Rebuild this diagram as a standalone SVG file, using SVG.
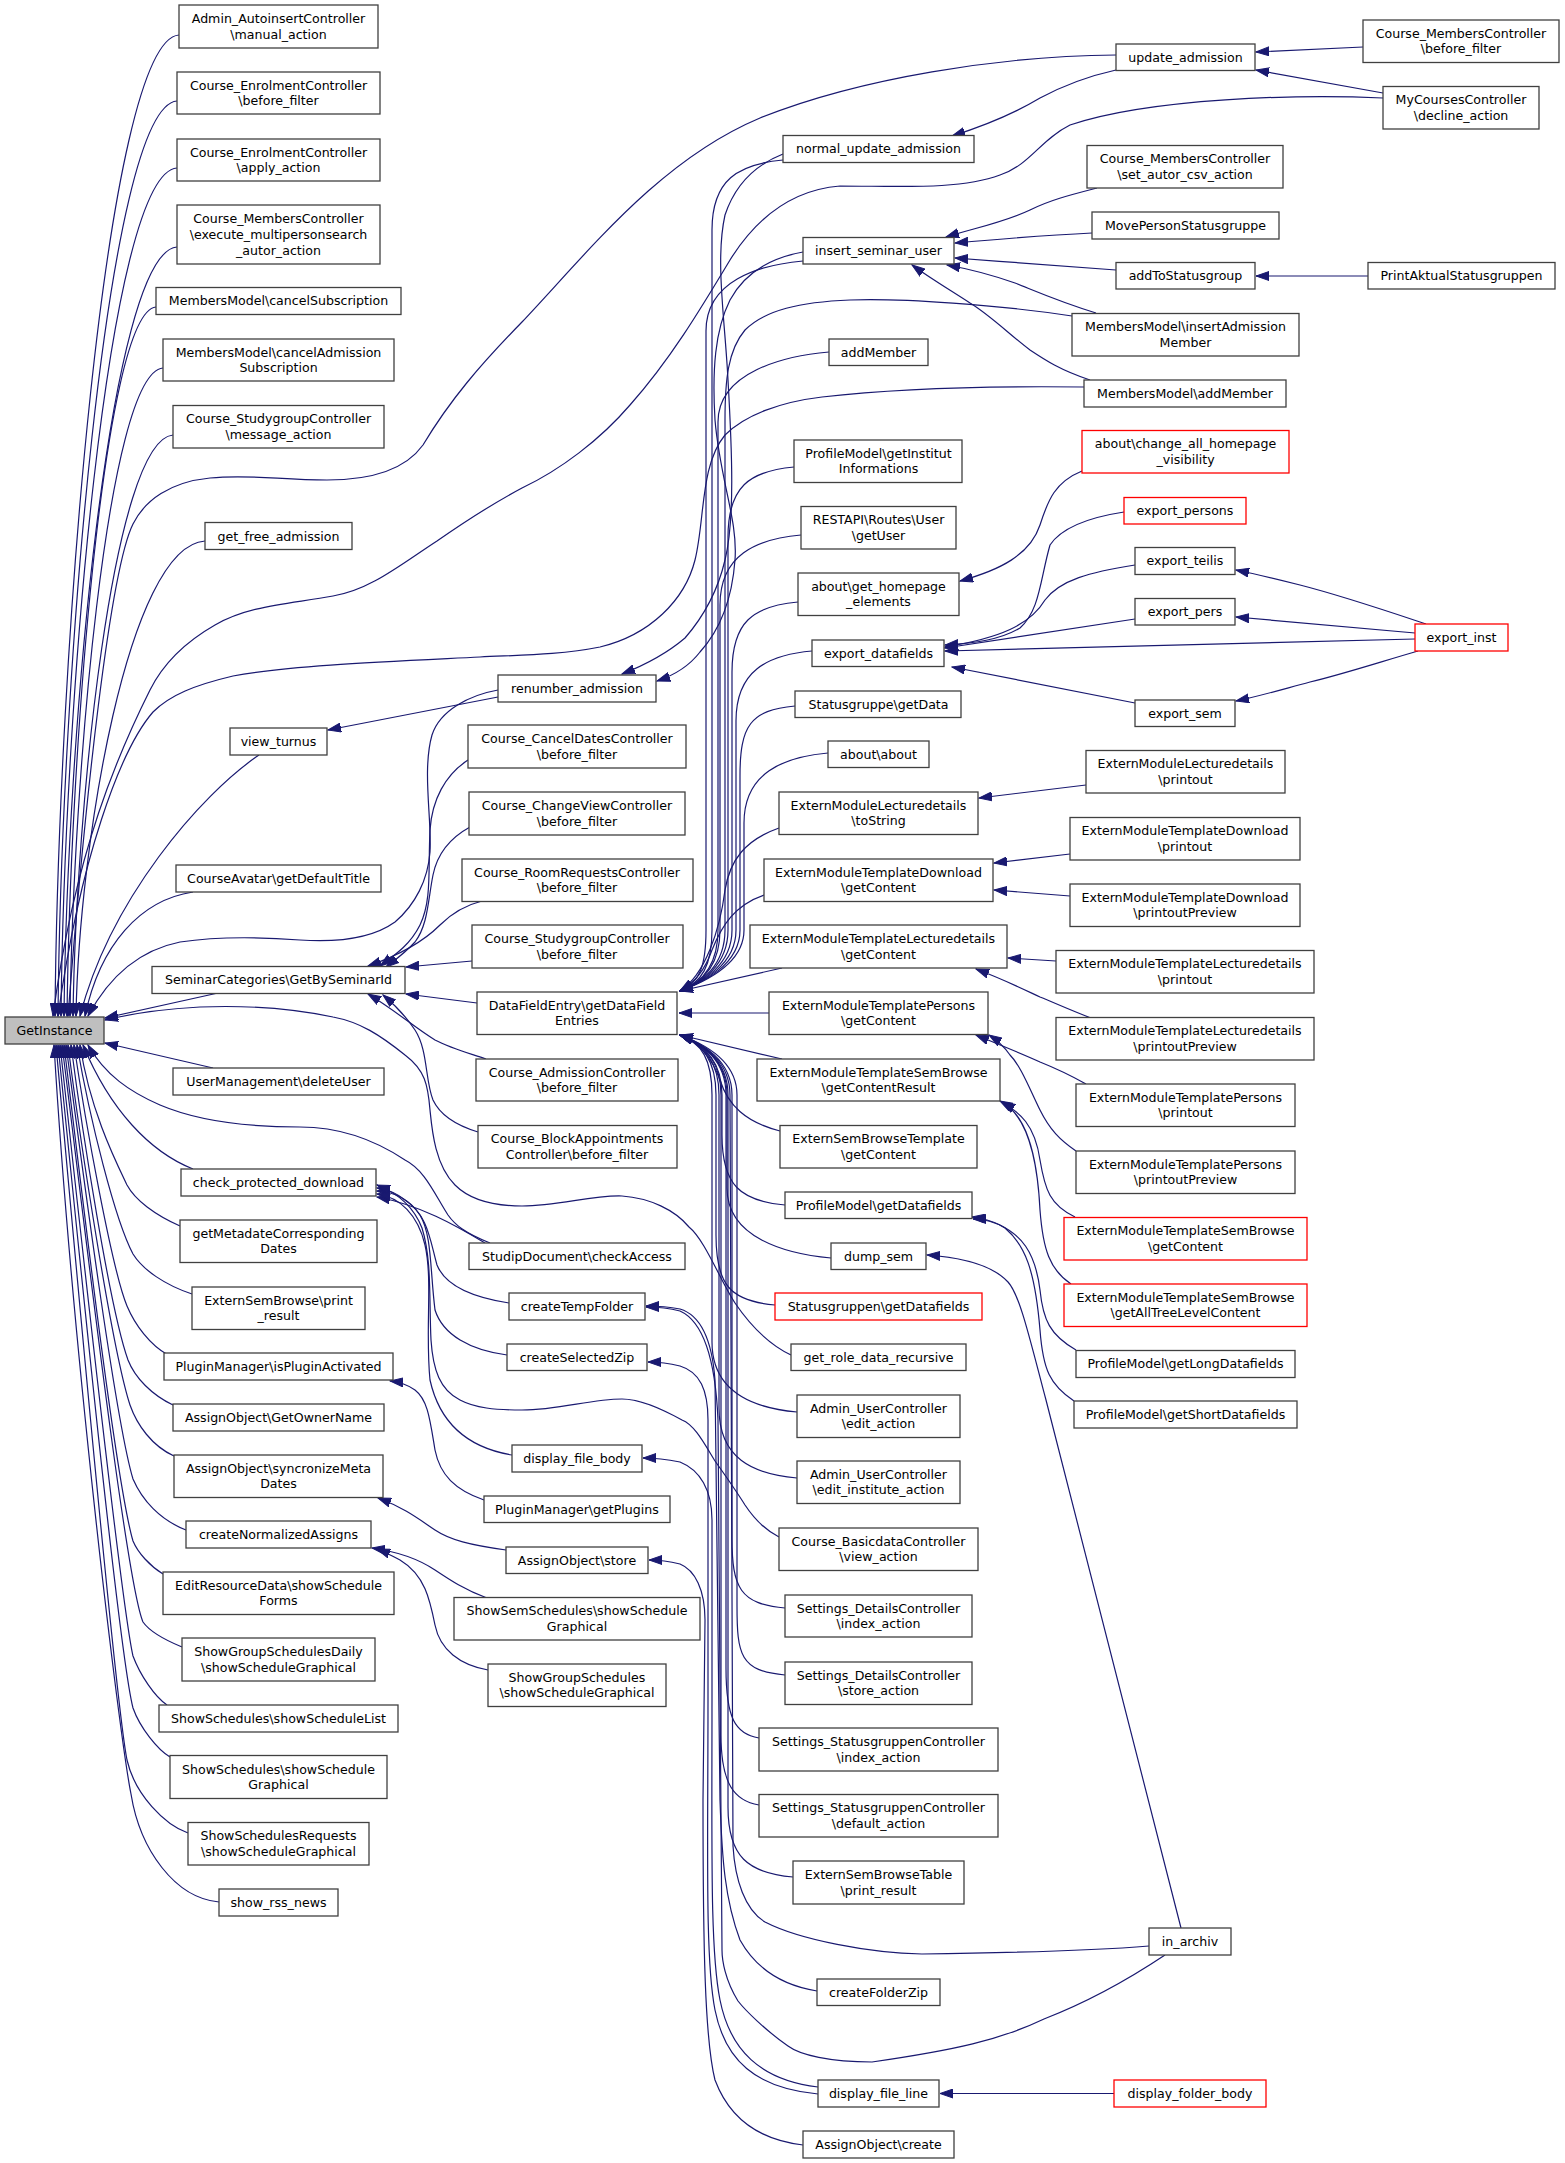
<svg xmlns="http://www.w3.org/2000/svg" width="1565" height="2163" viewBox="0 0 1565 2163">
<style>
.n rect{fill:#fff;stroke:#404040;stroke-width:1.3}
.r rect{fill:#fff;stroke:#ff0000;stroke-width:1.3}
.g rect{fill:#bfbfbf;stroke:#404040;stroke-width:1.3}
text{font-family:"DejaVu Sans","Liberation Sans",sans-serif;font-size:12.6px;text-anchor:middle;fill:#000}
#edges path{fill:none;stroke:#191970;stroke-width:1.2;marker-end:url(#a)}
</style>
<defs>
<marker id="a" markerWidth="14" markerHeight="10" refX="13" refY="5" orient="auto" markerUnits="userSpaceOnUse">
<path d="M0,0.5 L13,5 L0,9.5 z" fill="#191970" stroke="#191970" stroke-width="1"/>
</marker>
</defs>
<rect x="0" y="0" width="1565" height="2163" fill="#fff"/>
<g id="edges">
<path d="M179,35 C105,40 58,663 55,1016"/>
<path d="M177,101 C106,106 61,687 58,1016"/>
<path d="M177,168 C107,173 64,711 61,1016"/>
<path d="M177,247 C109,252 67,739 64,1016"/>
<path d="M156,307 C103,312 70,761 67,1016"/>
<path d="M163,368 C107,373 73,783 70,1016"/>
<path d="M173,435 C113,440 76,807 73,1016"/>
<path d="M205,541 C128,546 79,845 76,1016"/>
<path d="M259,755 C200,795 110,900 80,1016"/>
<path d="M193,892 C140,900 100,945 85,1016"/>
<path d="M218,993 L105,1018"/>
<path d="M213,1068 L105,1043"/>
<path d="M193,1169 C150,1152 110,1110 83,1045"/>
<path d="M180,1226 C155,1215 135,1200 127,1185 C115,1160 90,1110 80,1045"/>
<path d="M192,1294 C165,1285 143,1270 133,1254 C115,1220 90,1120 77,1045"/>
<path d="M168,1355 C150,1345 135,1325 127,1306 C112,1270 85,1120 74,1045"/>
<path d="M173,1405 C152,1395 135,1378 128,1360 C110,1310 82,1130 71,1045"/>
<path d="M174,1456 C152,1446 137,1425 130,1405 C112,1350 80,1140 68,1045"/>
<path d="M186,1530 C160,1520 142,1500 133,1479 C115,1420 80,1150 66,1045"/>
<path d="M163,1574 C150,1566 138,1553 133,1541 C115,1480 78,1160 64,1045"/>
<path d="M182,1647 C165,1640 150,1632 143,1622 C125,1580 78,1170 62,1045"/>
<path d="M167,1705 C155,1697 140,1675 133,1656 C120,1600 75,1180 60,1045"/>
<path d="M170,1757 C158,1750 140,1728 133,1708 C118,1650 73,1190 58,1045"/>
<path d="M188,1833 C165,1825 135,1795 127,1760 C115,1700 70,1200 56,1045"/>
<path d="M219,1902 C175,1898 140,1850 131,1794 C119,1734 72,1344 54,1045"/>
<path d="M1116,55 C1000,56 860,78 760,118 C660,160 590,250 522,322 C480,365 450,400 423,445 C405,470 370,480 327,480 C280,480 250,474 210,478 C170,482 145,500 133,524 C110,570 85,800 68,1016"/>
<path d="M1383,98 C1300,94 1150,98 1070,125 C1040,140 1030,165 1000,175 C960,190 900,186 840,186 C790,190 755,220 730,260 C700,310 670,360 630,405 C600,440 560,470 522,488 C490,505 460,525 437,541 C400,565 370,590 333,596 C290,604 250,605 215,625 C180,645 160,670 150,690 C120,750 75,850 53,1016"/>
<path d="M1084,387 C1000,386 900,388 822,397 C780,402 745,415 725,435 C700,465 705,520 695,560 C685,600 650,635 600,647 C560,655 520,655 480,657 C400,661 290,665 233,676 C195,685 170,695 153,712 C120,750 80,860 58,1016"/>
<path d="M498,690 C470,695 440,710 432,735 C422,770 432,820 430,852 C428,880 415,905 395,922 C370,940 330,942 300,940 C260,937 220,936 180,942 C140,950 110,975 88,1016"/>
<path d="M490,1243 C465,1233 455,1225 448,1215 C435,1195 425,1170 405,1160 C375,1140 340,1127 300,1127 C250,1127 200,1122 160,1105 C130,1092 105,1075 88,1045"/>
<path d="M791,1355 C770,1345 750,1325 735,1303 C720,1280 705,1240 689,1227 C675,1210 650,1198 622,1196 C590,1195 560,1206 522,1206 C495,1206 470,1200 455,1185 C435,1165 432,1130 430,1110 C428,1085 425,1070 405,1055 C380,1035 360,1022 333,1017 C290,1008 250,1005 200,1007 C160,1009 130,1014 105,1020"/>
<path d="M498,697 L328,730"/>
<path d="M468,760 C445,775 432,800 430,830 C428,870 432,900 420,925 C410,945 395,955 380,966"/>
<path d="M470,827 C450,838 437,855 433,875 C428,900 428,925 415,942 C405,953 395,960 386,967"/>
<path d="M482,901 C462,906 450,915 440,925 C425,940 400,955 368,966"/>
<path d="M472,961 L406,967"/>
<path d="M477,1003 L406,994"/>
<path d="M486,1059 C465,1052 450,1048 435,1040 C415,1028 395,1010 368,994"/>
<path d="M478,1132 C455,1125 440,1115 433,1100 C425,1080 428,1050 415,1030 C405,1015 395,1005 383,995"/>
<path d="M485,1243 C455,1225 420,1205 377,1197"/>
<path d="M509,1303 C470,1297 445,1285 437,1265 C430,1240 428,1215 405,1200 C398,1194 390,1190 377,1188"/>
<path d="M507,1355 C470,1350 443,1335 435,1310 C430,1270 432,1235 420,1215 C410,1200 395,1192 377,1191"/>
<path d="M512,1455 C470,1448 440,1425 430,1380 C425,1330 433,1280 425,1245 C418,1215 400,1197 377,1194"/>
<path d="M779,1537 C765,1530 755,1520 745,1505 C735,1489 725,1475 715,1461 C705,1445 695,1425 682,1420 C660,1408 640,1399 622,1399 C590,1399 560,1410 522,1410 C495,1410 475,1408 460,1400 C440,1390 433,1370 431,1340 C429,1300 432,1260 422,1228 C415,1210 400,1194 377,1185"/>
<path d="M484,1500 C455,1490 440,1475 435,1450 C430,1420 428,1400 415,1390 C408,1385 400,1382 390,1381"/>
<path d="M506,1550 C470,1545 450,1540 435,1530 C420,1520 405,1508 378,1498"/>
<path d="M487,1598 C465,1590 450,1580 435,1570 C420,1560 400,1552 372,1548"/>
<path d="M488,1670 C460,1665 440,1650 435,1625 C430,1600 425,1575 400,1560 C390,1555 385,1552 377,1549"/>
<path d="M783,154 C755,165 735,185 725,215 C715,260 725,320 728,380 C732,450 735,520 725,560 C718,590 705,615 685,638 C665,655 645,665 622,674"/>
<path d="M803,252 C770,258 745,272 730,300 C715,330 712,370 715,420 C720,480 738,520 735,560 C732,600 720,630 700,652 C690,665 675,675 657,681"/>
<path d="M783,160 C738,164 712,180 712,230 L712,930 C712,965 702,983 680,991"/>
<path d="M803,261 C758,265 706,281 706,331 L706,930 C706,965 700,983 680,991"/>
<path d="M829,352 C784,356 718,372 718,422 L718,930 C718,965 702,983 680,991"/>
<path d="M1072,316 C1000,305 900,298 850,300 C800,302 765,310 745,330 C728,350 725,380 725,420 L725,930 C725,965 702,983 680,991"/>
<path d="M794,467 C749,471 728,487 728,537 L728,930 C728,965 702,983 680,991"/>
<path d="M801,535 C756,539 720,555 720,605 L720,930 C720,965 702,983 680,991"/>
<path d="M798,602 C753,606 732,622 732,672 L732,930 C732,965 702,983 680,991"/>
<path d="M812,651 C767,655 736,671 736,721 L736,930 C736,965 702,983 680,991"/>
<path d="M795,706 C750,710 740,726 740,776 L740,930 C740,965 702,983 680,991"/>
<path d="M828,753 C783,757 744,773 744,823 L744,930 C744,965 702,983 680,991"/>
<path d="M779,828 C745,840 730,860 725,890 C720,930 705,975 680,991"/>
<path d="M764,895 C735,905 722,925 712,950 C705,970 695,983 680,991"/>
<path d="M782,968 L680,991"/>
<path d="M769,1013 L679,1013"/>
<path d="M782,1059 L680,1035"/>
<path d="M780,1131 C745,1122 728,1105 720,1080 C712,1058 700,1043 680,1035"/>
<path d="M785,1205 C740,1201 722,1185 722,1135 L722,1095 C722,1060 702,1043 680,1035"/>
<path d="M831,1258 C786,1254 727,1238 727,1188 L727,1095 C727,1060 702,1043 680,1035"/>
<path d="M775,1305 C730,1301 716,1285 716,1235 L716,1095 C716,1060 702,1043 680,1035"/>
<path d="M797,1412 C752,1408 712,1392 712,1342 L712,1095 C712,1060 702,1043 680,1035"/>
<path d="M797,1478 C752,1474 719,1458 719,1408 L719,1095 C719,1060 702,1043 680,1035"/>
<path d="M785,1608 C740,1604 732,1588 732,1538 L732,1095 C732,1060 702,1043 680,1035"/>
<path d="M785,1675 C740,1671 737,1655 737,1605 L737,1095 C737,1060 702,1043 680,1035"/>
<path d="M759,1738 C735,1734 726,1718 726,1668 L726,1095 C726,1060 702,1043 680,1035"/>
<path d="M759,1805 C735,1801 721,1785 721,1735 L721,1095 C721,1060 702,1043 680,1035"/>
<path d="M793,1877 C748,1873 728,1857 728,1807 L728,1095 C728,1060 702,1043 680,1035"/>
<path d="M1149,1946 C1100,1950 1000,1953 922,1954 C870,1953 800,1940 765,1922 C745,1910 735,1880 733,1846 L730,1095 C730,1060 702,1043 680,1035"/>
<path d="M817,1991 C780,1985 755,1967 740,1940 C725,1900 722,1860 720,1800 L715,1380 C712,1340 700,1315 680,1309 C665,1306 655,1306 646,1306"/>
<path d="M1165,1955 C1120,1985 1080,2005 1044,2019 C1000,2040 955,2050 872,2062 C830,2062 800,2055 788,2046 C765,2030 745,2010 738,2001 C725,1980 722,1960 722,1950 L718,1420 C715,1350 700,1320 680,1311 C665,1307 655,1307 646,1307"/>
<path d="M818,2087 C760,2080 730,2050 720,2000 C710,1950 712,1850 712,1700 L712,1520 C712,1490 700,1470 680,1462 C665,1459 655,1458 643,1458"/>
<path d="M818,2094 C755,2088 725,2060 715,2010 C705,1960 708,1850 708,1700 L708,1420 C708,1390 700,1372 680,1366 C668,1363 658,1362 648,1362"/>
<path d="M803,2145 C760,2140 730,2120 715,2080 C705,2040 703,1950 703,1800 L705,1620 C705,1590 695,1570 680,1564 C668,1561 658,1560 649,1560"/>
<path d="M1181,1928 L1046,1400 C1030,1340 1020,1295 1008,1282 C995,1268 970,1258 927,1255"/>
<path d="M1097,188 C1070,195 1050,200 1030,210 C1005,222 975,228 946,237"/>
<path d="M1092,233 C1050,235 1000,239 955,243"/>
<path d="M1116,270 C1070,267 1010,262 955,258"/>
<path d="M1096,313 C1060,302 1040,293 1015,283 C995,276 975,270 947,265"/>
<path d="M1090,380 C1060,370 1045,360 1030,350 C1010,335 990,315 970,303 C950,290 930,278 912,265"/>
<path d="M1368,276 L1256,276"/>
<path d="M1363,47 L1256,52"/>
<path d="M1383,93 L1256,70"/>
<path d="M1116,70 C1080,78 1055,90 1040,98 C1020,110 990,124 952,136"/>
<path d="M1082,471 C1055,482 1048,500 1040,525 C1030,555 1000,570 960,581"/>
<path d="M1124,512 C1085,518 1060,530 1050,545 C1040,580 1040,610 1020,628 C1000,640 975,643 945,645"/>
<path d="M1135,565 C1090,572 1060,580 1045,600 C1030,625 1000,638 945,647"/>
<path d="M1135,619 L945,648"/>
<path d="M1415,639 L945,651"/>
<path d="M1135,703 L952,667"/>
<path d="M1426,624 C1390,612 1343,596 1300,585 C1280,580 1260,575 1236,570"/>
<path d="M1415,633 L1236,617"/>
<path d="M1418,651 C1380,662 1340,675 1310,682 C1280,690 1260,696 1236,701"/>
<path d="M1086,785 L979,798"/>
<path d="M1070,854 L994,863"/>
<path d="M1070,896 L994,890"/>
<path d="M1056,961 L1008,958"/>
<path d="M1091,1018 C1070,1010 1055,1003 1040,997 C1025,990 1005,980 976,969"/>
<path d="M1086,1084 C1070,1075 1055,1068 1040,1062 C1025,1055 1000,1045 976,1035"/>
<path d="M1076,1151 C1060,1140 1050,1130 1040,1110 C1028,1085 1020,1065 1010,1055 C1003,1045 997,1040 989,1035"/>
<path d="M1075,1217 C1050,1205 1045,1190 1040,1160 C1035,1125 1020,1112 1000,1101"/>
<path d="M1071,1284 C1050,1270 1043,1250 1040,1210 C1037,1150 1025,1115 1002,1102"/>
<path d="M1076,1350 C1050,1335 1043,1320 1040,1290 C1035,1250 1020,1235 1000,1225 C990,1220 980,1218 972,1217"/>
<path d="M1074,1401 C1050,1385 1043,1370 1040,1330 C1035,1270 1025,1245 1005,1228 C995,1222 985,1219 973,1219"/>
<path d="M1114,2093.5 L940,2093.5"/>
</g>
<g id="n_GetInstance" class="g"><rect x="5" y="1017" width="99" height="27"/><text x="54.5" y="1034.9">GetInstance</text></g>
<g id="n_c1a" class="n"><rect x="179" y="5" width="199" height="43"/><text x="278.5" y="23.1">Admin_AutoinsertController</text><text x="278.5" y="38.7">\manual_action</text></g>
<g id="n_c1b" class="n"><rect x="177" y="72" width="203" height="42"/><text x="278.5" y="89.6">Course_EnrolmentController</text><text x="278.5" y="105.2">\before_filter</text></g>
<g id="n_c1c" class="n"><rect x="177" y="139" width="203" height="42"/><text x="278.5" y="156.6">Course_EnrolmentController</text><text x="278.5" y="172.2">\apply_action</text></g>
<g id="n_c1d" class="n"><rect x="177" y="205" width="203" height="59"/><text x="278.5" y="223.2">Course_MembersController</text><text x="278.5" y="238.9">\execute_multipersonsearch</text><text x="278.5" y="254.6">_autor_action</text></g>
<g id="n_c1e" class="n"><rect x="156" y="287.5" width="245" height="27"/><text x="278.5" y="305.4">MembersModel\cancelSubscription</text></g>
<g id="n_c1f" class="n"><rect x="163" y="339" width="231" height="42"/><text x="278.5" y="356.6">MembersModel\cancelAdmission</text><text x="278.5" y="372.2">Subscription</text></g>
<g id="n_c1g" class="n"><rect x="173" y="405.5" width="211" height="42.5"/><text x="278.5" y="423.35">Course_StudygroupController</text><text x="278.5" y="438.95">\message_action</text></g>
<g id="n_c1h" class="n"><rect x="205" y="522.5" width="147" height="27"/><text x="278.5" y="540.65">get_free_admission</text></g>
<g id="n_c1i" class="n"><rect x="230" y="728" width="97" height="27"/><text x="278.5" y="745.9">view_turnus</text></g>
<g id="n_c1j" class="n"><rect x="176" y="865" width="205" height="27"/><text x="278.5" y="882.9">CourseAvatar\getDefaultTitle</text></g>
<g id="n_c1k" class="n"><rect x="152" y="966.5" width="253" height="27"/><text x="278.5" y="984.4">SeminarCategories\GetBySeminarId</text></g>
<g id="n_c1l" class="n"><rect x="173" y="1068" width="211" height="27"/><text x="278.5" y="1085.9">UserManagement\deleteUser</text></g>
<g id="n_c1m" class="n"><rect x="181" y="1169" width="195" height="27"/><text x="278.5" y="1186.9">check_protected_download</text></g>
<g id="n_c1n" class="n"><rect x="180" y="1220" width="197" height="42.5"/><text x="278.5" y="1237.85">getMetadateCorresponding</text><text x="278.5" y="1253.45">Dates</text></g>
<g id="n_c1o" class="n"><rect x="192" y="1287" width="173" height="42.5"/><text x="278.5" y="1304.85">ExternSemBrowse\print</text><text x="278.5" y="1320.45">_result</text></g>
<g id="n_c1p" class="n"><rect x="164" y="1353" width="229" height="27"/><text x="278.5" y="1370.9">PluginManager\isPluginActivated</text></g>
<g id="n_c1q" class="n"><rect x="173" y="1404" width="211" height="27"/><text x="278.5" y="1421.9">AssignObject\GetOwnerName</text></g>
<g id="n_c1r" class="n"><rect x="174" y="1455" width="209" height="42.5"/><text x="278.5" y="1472.85">AssignObject\syncronizeMeta</text><text x="278.5" y="1488.45">Dates</text></g>
<g id="n_c1s" class="n"><rect x="186" y="1521" width="185" height="27"/><text x="278.5" y="1538.9">createNormalizedAssigns</text></g>
<g id="n_c1t" class="n"><rect x="163" y="1572" width="231" height="42.5"/><text x="278.5" y="1589.85">EditResourceData\showSchedule</text><text x="278.5" y="1605.45">Forms</text></g>
<g id="n_c1u" class="n"><rect x="182" y="1638" width="193" height="43"/><text x="278.5" y="1656.1">ShowGroupSchedulesDaily</text><text x="278.5" y="1671.7">\showScheduleGraphical</text></g>
<g id="n_c1v" class="n"><rect x="159" y="1705" width="239" height="27"/><text x="278.5" y="1722.9">ShowSchedules\showScheduleList</text></g>
<g id="n_c1w" class="n"><rect x="170" y="1755.5" width="217" height="43"/><text x="278.5" y="1773.6">ShowSchedules\showSchedule</text><text x="278.5" y="1789.2">Graphical</text></g>
<g id="n_c1x" class="n"><rect x="188" y="1822.5" width="181" height="42.5"/><text x="278.5" y="1840.35">ShowSchedulesRequests</text><text x="278.5" y="1855.95">\showScheduleGraphical</text></g>
<g id="n_c1y" class="n"><rect x="219" y="1889" width="119" height="27"/><text x="278.5" y="1906.9">show_rss_news</text></g>
<g id="n_c2a" class="n"><rect x="498" y="675" width="158" height="27"/><text x="577" y="692.9">renumber_admission</text></g>
<g id="n_c2b" class="n"><rect x="468" y="725" width="218" height="43"/><text x="577" y="743.1">Course_CancelDatesController</text><text x="577" y="758.7">\before_filter</text></g>
<g id="n_c2c" class="n"><rect x="469" y="792" width="216" height="43"/><text x="577" y="810.1">Course_ChangeViewController</text><text x="577" y="825.7">\before_filter</text></g>
<g id="n_c2d" class="n"><rect x="462" y="859" width="231" height="42.5"/><text x="577" y="876.85">Course_RoomRequestsController</text><text x="577" y="892.45">\before_filter</text></g>
<g id="n_c2e" class="n"><rect x="472" y="925" width="211" height="43"/><text x="577" y="943.1">Course_StudygroupController</text><text x="577" y="958.7">\before_filter</text></g>
<g id="n_c2f" class="n"><rect x="477" y="992" width="200" height="42.5"/><text x="577" y="1009.85">DataFieldEntry\getDataField</text><text x="577" y="1025.45">Entries</text></g>
<g id="n_c2g" class="n"><rect x="476" y="1059" width="202" height="42"/><text x="577" y="1076.6">Course_AdmissionController</text><text x="577" y="1092.2">\before_filter</text></g>
<g id="n_c2h" class="n"><rect x="478" y="1125.5" width="199" height="42.5"/><text x="577" y="1143.35">Course_BlockAppointments</text><text x="577" y="1158.95">Controller\before_filter</text></g>
<g id="n_c2i" class="n"><rect x="469" y="1243" width="216" height="26.5"/><text x="577" y="1260.65">StudipDocument\checkAccess</text></g>
<g id="n_c2j" class="n"><rect x="509" y="1293" width="136" height="27"/><text x="577" y="1310.9">createTempFolder</text></g>
<g id="n_c2k" class="n"><rect x="507" y="1344" width="140" height="26.5"/><text x="577" y="1361.65">createSelectedZip</text></g>
<g id="n_c2l" class="n"><rect x="512" y="1445" width="130" height="27"/><text x="577" y="1462.9">display_file_body</text></g>
<g id="n_c2m" class="n"><rect x="484" y="1496" width="186" height="26.5"/><text x="577" y="1513.65">PluginManager\getPlugins</text></g>
<g id="n_c2n" class="n"><rect x="506" y="1547" width="142" height="26.5"/><text x="577" y="1564.65">AssignObject\store</text></g>
<g id="n_c2o" class="n"><rect x="454" y="1597.5" width="246" height="42.5"/><text x="577" y="1615.35">ShowSemSchedules\showSchedule</text><text x="577" y="1630.95">Graphical</text></g>
<g id="n_c2p" class="n"><rect x="488" y="1664" width="178" height="42.5"/><text x="577" y="1681.85">ShowGroupSchedules</text><text x="577" y="1697.45">\showScheduleGraphical</text></g>
<g id="n_c3a" class="n"><rect x="783" y="135.5" width="191" height="27"/><text x="878.5" y="153.4">normal_update_admission</text></g>
<g id="n_c3b" class="n"><rect x="803" y="237.5" width="151" height="26.5"/><text x="878.5" y="255.15">insert_seminar_user</text></g>
<g id="n_c3c" class="n"><rect x="829" y="339" width="99" height="26.5"/><text x="878.5" y="356.65">addMember</text></g>
<g id="n_c3d" class="n"><rect x="794" y="440" width="168" height="42.5"/><text x="878.5" y="457.85">ProfileModel\getInstitut</text><text x="878.5" y="473.45">Informations</text></g>
<g id="n_c3e" class="n"><rect x="801" y="506.5" width="155" height="42.5"/><text x="878.5" y="524.35">RESTAPI\Routes\User</text><text x="878.5" y="539.95">\getUser</text></g>
<g id="n_c3f" class="n"><rect x="798" y="573" width="161" height="42.5"/><text x="878.5" y="590.85">about\get_homepage</text><text x="878.5" y="606.45">_elements</text></g>
<g id="n_c3g" class="n"><rect x="812" y="640" width="132" height="26.5"/><text x="878.5" y="657.65">export_datafields</text></g>
<g id="n_c3h" class="n"><rect x="795" y="691" width="166" height="26.5"/><text x="878.5" y="708.65">Statusgruppe\getData</text></g>
<g id="n_c3i" class="n"><rect x="828" y="741" width="101" height="26.5"/><text x="878.5" y="758.65">about\about</text></g>
<g id="n_c3j" class="n"><rect x="779" y="792" width="199" height="42.5"/><text x="878.5" y="809.85">ExternModuleLecturedetails</text><text x="878.5" y="825.45">\toString</text></g>
<g id="n_c3k" class="n"><rect x="764" y="859" width="229" height="42.5"/><text x="878.5" y="876.85">ExternModuleTemplateDownload</text><text x="878.5" y="892.45">\getContent</text></g>
<g id="n_c3l" class="n"><rect x="750" y="925" width="257" height="43"/><text x="878.5" y="943.1">ExternModuleTemplateLecturedetails</text><text x="878.5" y="958.7">\getContent</text></g>
<g id="n_c3m" class="n"><rect x="769" y="992" width="219" height="42.5"/><text x="878.5" y="1009.85">ExternModuleTemplatePersons</text><text x="878.5" y="1025.45">\getContent</text></g>
<g id="n_c3n" class="n"><rect x="757" y="1059" width="243" height="42"/><text x="878.5" y="1076.6">ExternModuleTemplateSemBrowse</text><text x="878.5" y="1092.2">\getContentResult</text></g>
<g id="n_c3o" class="n"><rect x="780" y="1125.5" width="197" height="42.5"/><text x="878.5" y="1143.35">ExternSemBrowseTemplate</text><text x="878.5" y="1158.95">\getContent</text></g>
<g id="n_c3p" class="n"><rect x="785" y="1192" width="187" height="26.5"/><text x="878.5" y="1209.65">ProfileModel\getDatafields</text></g>
<g id="n_c3q" class="n"><rect x="831" y="1243" width="95" height="26.5"/><text x="878.5" y="1260.65">dump_sem</text></g>
<g id="n_c3r" class="r"><rect x="775" y="1293" width="207" height="27"/><text x="878.5" y="1310.9">Statusgruppen\getDatafields</text></g>
<g id="n_c3s" class="n"><rect x="791" y="1344" width="175" height="26.5"/><text x="878.5" y="1361.65">get_role_data_recursive</text></g>
<g id="n_c3t" class="n"><rect x="797" y="1395" width="163" height="42.5"/><text x="878.5" y="1412.85">Admin_UserController</text><text x="878.5" y="1428.45">\edit_action</text></g>
<g id="n_c3u" class="n"><rect x="797" y="1461" width="163" height="42.5"/><text x="878.5" y="1478.85">Admin_UserController</text><text x="878.5" y="1494.45">\edit_institute_action</text></g>
<g id="n_c3v" class="n"><rect x="779" y="1528" width="199" height="42.5"/><text x="878.5" y="1545.85">Course_BasicdataController</text><text x="878.5" y="1561.45">\view_action</text></g>
<g id="n_c3w" class="n"><rect x="785" y="1595" width="187" height="42"/><text x="878.5" y="1612.6">Settings_DetailsController</text><text x="878.5" y="1628.2">\index_action</text></g>
<g id="n_c3x" class="n"><rect x="785" y="1662" width="187" height="42.5"/><text x="878.5" y="1679.85">Settings_DetailsController</text><text x="878.5" y="1695.45">\store_action</text></g>
<g id="n_c3y" class="n"><rect x="759" y="1728" width="239" height="43"/><text x="878.5" y="1746.1">Settings_StatusgruppenController</text><text x="878.5" y="1761.7">\index_action</text></g>
<g id="n_c3z" class="n"><rect x="759" y="1794.5" width="239" height="42.5"/><text x="878.5" y="1812.35">Settings_StatusgruppenController</text><text x="878.5" y="1827.95">\default_action</text></g>
<g id="n_c3aa" class="n"><rect x="793" y="1861" width="171" height="43"/><text x="878.5" y="1879.1">ExternSemBrowseTable</text><text x="878.5" y="1894.7">\print_result</text></g>
<g id="n_c3ab" class="n"><rect x="817" y="1979" width="123" height="26.5"/><text x="878.5" y="1996.65">createFolderZip</text></g>
<g id="n_c3ac" class="n"><rect x="818" y="2080" width="121" height="27"/><text x="878.5" y="2097.9">display_file_line</text></g>
<g id="n_c3ad" class="n"><rect x="803" y="2131" width="151" height="27"/><text x="878.5" y="2148.9">AssignObject\create</text></g>
<g id="n_c4a" class="n"><rect x="1116" y="44" width="139" height="26.5"/><text x="1185.5" y="61.65">update_admission</text></g>
<g id="n_c4b" class="n"><rect x="1087" y="145.5" width="196" height="42.5"/><text x="1185" y="163.35">Course_MembersController</text><text x="1185" y="178.95">\set_autor_csv_action</text></g>
<g id="n_c4c" class="n"><rect x="1092" y="212" width="187" height="27"/><text x="1185.5" y="229.9">MovePersonStatusgruppe</text></g>
<g id="n_c4d" class="n"><rect x="1116" y="262.5" width="139" height="26.5"/><text x="1185.5" y="280.15">addToStatusgroup</text></g>
<g id="n_c4e" class="n"><rect x="1072" y="313.5" width="227" height="42.5"/><text x="1185.5" y="331.35">MembersModel\insertAdmission</text><text x="1185.5" y="346.95">Member</text></g>
<g id="n_c4f" class="n"><rect x="1084" y="380" width="202" height="27"/><text x="1185" y="397.9">MembersModel\addMember</text></g>
<g id="n_c4g" class="r"><rect x="1082" y="430.5" width="207" height="42.5"/><text x="1185.5" y="448.35">about\change_all_homepage</text><text x="1185.5" y="463.95">_visibility</text></g>
<g id="n_c4h" class="r"><rect x="1124" y="497.5" width="122" height="26.5"/><text x="1185" y="515.15">export_persons</text></g>
<g id="n_c4i" class="n"><rect x="1135" y="547.5" width="100" height="27"/><text x="1185" y="565.4">export_teilis</text></g>
<g id="n_c4j" class="n"><rect x="1135" y="598.5" width="100" height="26.5"/><text x="1185" y="616.15">export_pers</text></g>
<g id="n_c4k" class="n"><rect x="1135" y="700" width="100" height="26.5"/><text x="1185" y="717.65">export_sem</text></g>
<g id="n_c4l" class="n"><rect x="1086" y="750.5" width="199" height="42.5"/><text x="1185.5" y="768.35">ExternModuleLecturedetails</text><text x="1185.5" y="783.95">\printout</text></g>
<g id="n_c4m" class="n"><rect x="1070" y="817.5" width="230" height="42.5"/><text x="1185" y="835.35">ExternModuleTemplateDownload</text><text x="1185" y="850.95">\printout</text></g>
<g id="n_c4n" class="n"><rect x="1070" y="884" width="230" height="42.5"/><text x="1185" y="901.85">ExternModuleTemplateDownload</text><text x="1185" y="917.45">\printoutPreview</text></g>
<g id="n_c4o" class="n"><rect x="1056" y="950.5" width="258" height="42.5"/><text x="1185" y="968.35">ExternModuleTemplateLecturedetails</text><text x="1185" y="983.95">\printout</text></g>
<g id="n_c4p" class="n"><rect x="1056" y="1017.5" width="258" height="42.5"/><text x="1185" y="1035.35">ExternModuleTemplateLecturedetails</text><text x="1185" y="1050.95">\printoutPreview</text></g>
<g id="n_c4q" class="n"><rect x="1076" y="1084" width="219" height="42.5"/><text x="1185.5" y="1101.85">ExternModuleTemplatePersons</text><text x="1185.5" y="1117.45">\printout</text></g>
<g id="n_c4r" class="n"><rect x="1076" y="1151" width="219" height="42.5"/><text x="1185.5" y="1168.85">ExternModuleTemplatePersons</text><text x="1185.5" y="1184.45">\printoutPreview</text></g>
<g id="n_c4s" class="r"><rect x="1064" y="1217.5" width="243" height="42.5"/><text x="1185.5" y="1235.35">ExternModuleTemplateSemBrowse</text><text x="1185.5" y="1250.95">\getContent</text></g>
<g id="n_c4t" class="r"><rect x="1064" y="1284" width="243" height="42.5"/><text x="1185.5" y="1301.85">ExternModuleTemplateSemBrowse</text><text x="1185.5" y="1317.45">\getAllTreeLevelContent</text></g>
<g id="n_c4u" class="n"><rect x="1076" y="1350.5" width="219" height="27"/><text x="1185.5" y="1368.4">ProfileModel\getLongDatafields</text></g>
<g id="n_c4v" class="n"><rect x="1074" y="1401" width="223" height="27"/><text x="1185.5" y="1418.9">ProfileModel\getShortDatafields</text></g>
<g id="n_c4w" class="n"><rect x="1149" y="1928" width="82" height="27"/><text x="1190" y="1945.9">in_archiv</text></g>
<g id="n_c4x" class="r"><rect x="1114" y="2080" width="152" height="27"/><text x="1190" y="2097.9">display_folder_body</text></g>
<g id="n_c5a" class="n"><rect x="1363" y="20" width="196" height="42.5"/><text x="1461" y="37.85">Course_MembersController</text><text x="1461" y="53.45">\before_filter</text></g>
<g id="n_c5b" class="n"><rect x="1383" y="86.5" width="156" height="42.5"/><text x="1461" y="104.35">MyCoursesController</text><text x="1461" y="119.95">\decline_action</text></g>
<g id="n_c5c" class="n"><rect x="1368" y="262.5" width="187" height="26.5"/><text x="1461.5" y="280.15">PrintAktualStatusgruppen</text></g>
<g id="n_c5d" class="r"><rect x="1415" y="624" width="93" height="27"/><text x="1461.5" y="641.9">export_inst</text></g>
</svg>
